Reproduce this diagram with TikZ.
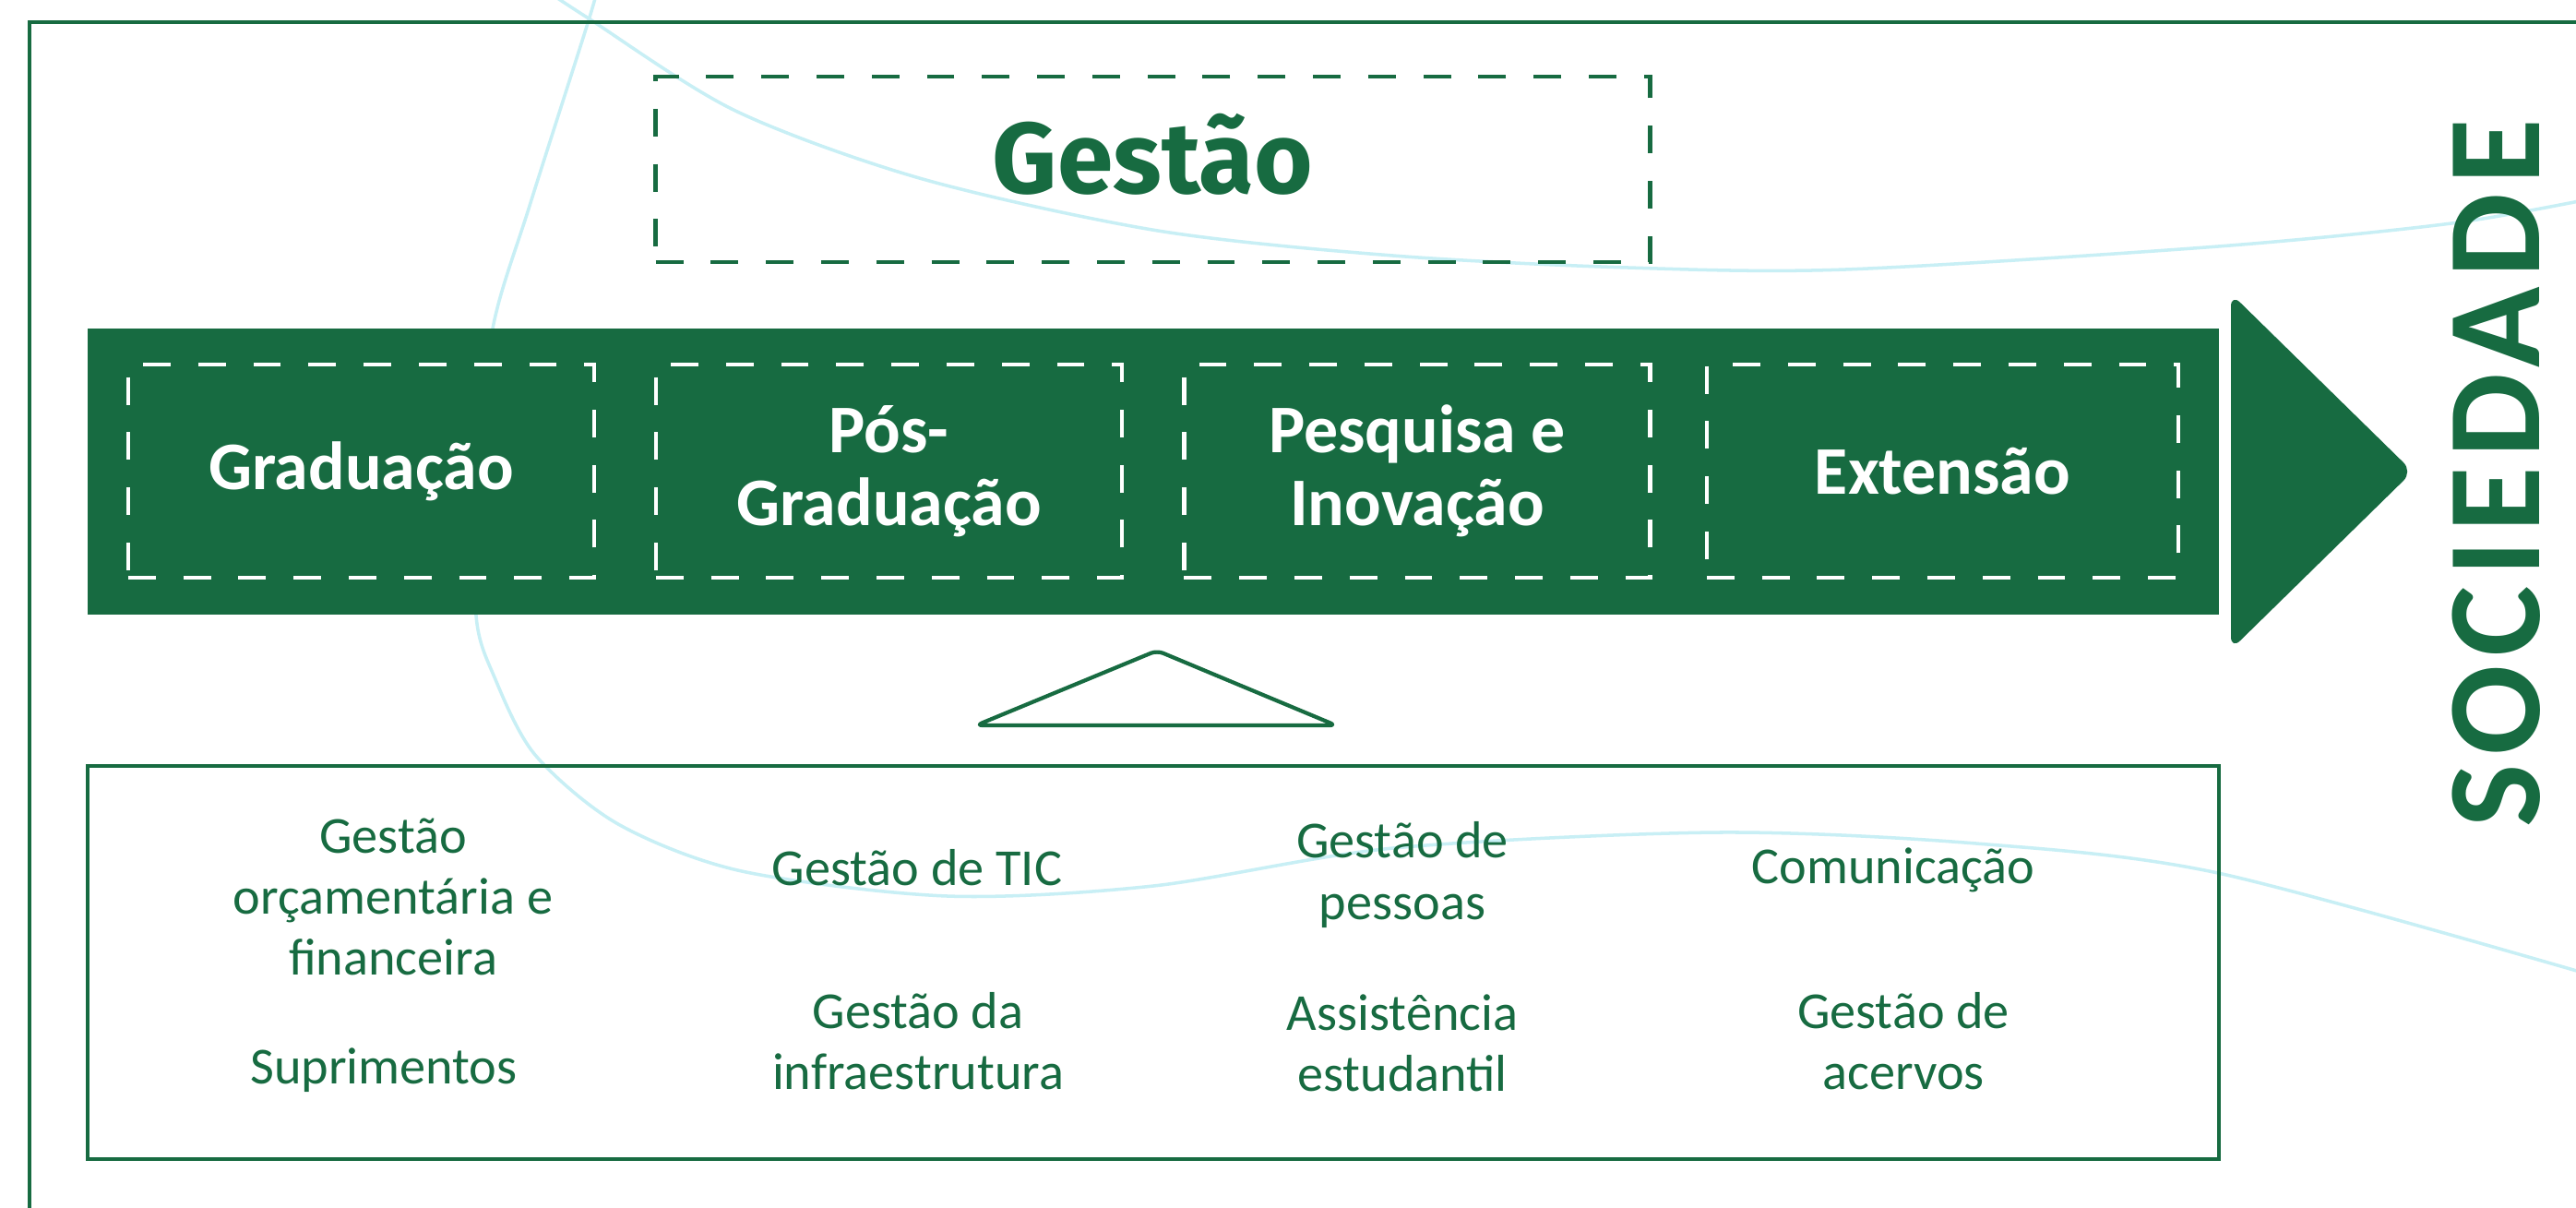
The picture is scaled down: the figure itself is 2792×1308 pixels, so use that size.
\documentclass[tikz,border=0pt]{standalone}
\usepackage{fontspec}
\setmainfont{Carlito}
\newfontfamily\headfont{Fira Sans}
\newfontfamily\sidefont[LetterSpace=7]{Carlito}
\definecolor{ufgreen}{HTML}{176B41}
\definecolor{waveblue}{HTML}{C8EFF5}
\tikzset{
  wave/.style = {draw = waveblue, line width = 1pt},
  mainbox/.style = {draw = ufgreen, line width = 1.3pt, dash pattern = on 8.5pt off 8.5pt,
    minimum width = 10.77cm, minimum height = 2.01cm, inner sep = 0pt, text = ufgreen,
    font = \headfont\bfseries\fontsize{31}{31}\selectfont},
  areabox/.style = {draw = white, line width = 1.3pt, dash pattern = on 8.5pt off 8.5pt,
    minimum width = 5.05cm, minimum height = 2.31cm, inner sep = 0pt, text = white, align = center,
    font = \bfseries\fontsize{21}{22.5}\selectfont},
  itemtext/.style = {text = ufgreen, align = center, inner sep = 0pt,
    font = \fontsize{16}{18.8}\selectfont}
}

\begin{document}
\begin{tikzpicture} [x = 0.01cm, y = -0.01cm]
\useasboundingbox (0, 0) rectangle (2792, 1308);
\clip (0, 0) rectangle (2792, 1308);
\fill[white] (0, 0) rectangle (2792, 1308);
\draw[wave] plot[smooth] coordinates {(585, -15) (638, 20) (797, 120) (1000, 194) (1255, 250) (1510, 277) (1765, 290) (2000, 292) (2404, 267) (2657, 242) (2810, 215)};
\draw[wave] plot[smooth] coordinates {(648, -15) (638, 22) (574, 223) (534, 356) (518, 520) (516, 667) (536, 734) (580, 818) (670, 893) (804, 944) (1027, 971) (1250, 960) (1510, 919) (1861, 902) (2142, 914) (2404, 946) (2810, 1057)};
\draw[ufgreen, line width = 1.1pt] (32, 24) rectangle (2900, 1400);
\node[mainbox] (gestao) at (1249.5, 183.5) {\raisebox{-7.5pt}[0pt][0pt]{Gestão}};
\fill[ufgreen] (95, 356) rectangle (2405, 666);
\node[areabox] (grad) at (391.5, 510.5) {Graduação};
\node[areabox] (pos) at (963.5, 510.5) {Pós-\\Graduação};
\node[areabox] (pesq) at (1536, 510.5) {Pesquisa e\\Inovação};
\node[areabox, minimum width = 5.11cm] (ext) at (2105.5, 510.5) {Extensão};
\fill[ufgreen, rounded corners = 4pt] (2418, 318) -- (2615, 511) -- (2418, 704) -- cycle;
\node[rotate = 90, text = ufgreen, inner sep = 0pt, font = \sidefont\bfseries\fontsize{41}{41}\selectfont] (soc) at (2706, 513) {SOCIEDADE};
\draw[ufgreen, line width = 1.2pt, rounded corners = 2pt, line join = round] (1058, 786) -- (1254, 705) -- (1448, 786) -- cycle;
\draw[ufgreen, line width = 1.1pt] (95, 830) rectangle (2405, 1256);
\node[itemtext] (orc) at (426, 972) {Gestão\\orçamentária e\\financeira};
\node[itemtext] (supr) at (416, 1160) {Suprimentos};
\node[itemtext] (tic) at (994, 940) {Gestão de TIC};
\node[itemtext] (infra) at (995, 1128) {Gestão da\\infraestrutura};
\node[itemtext] (pess) at (1520, 948) {Gestão de\\pessoas};
\node[itemtext] (assist) at (1520, 1130) {Assistência\\estudantil};
\node[itemtext] (com) at (2052, 943) {Comunicação};
\node[itemtext] (acerv) at (2063, 1128) {Gestão de\\acervos};
\end{tikzpicture}
\end{document}
